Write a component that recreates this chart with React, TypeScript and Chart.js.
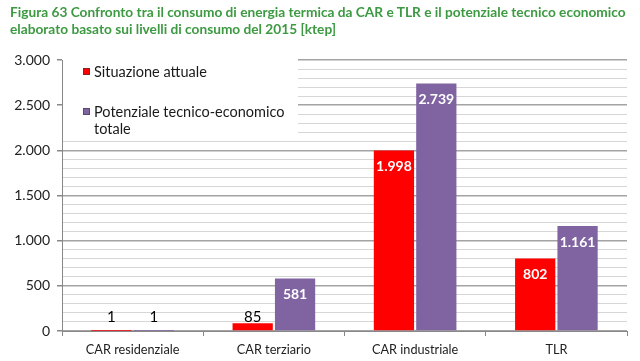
import React, { useEffect, useRef } from "react";
import { Chart, registerables } from "chart.js";

Chart.register(...registerables);

const titleLines = [
  "Figura 63 Confronto tra il consumo di energia termica da CAR e TLR e il potenziale tecnico economico",
  "elaborato basato sui livelli di consumo del 2015 [ktep]",
];
const categories = ["CAR residenziale", "CAR terziario", "CAR industriale", "TLR"];
const seriesNames = ["Situazione attuale", "Potenziale tecnico-economico totale"];
const legendLines = [["Situazione attuale"], ["Potenziale tecnico-economico", "totale"]];
const situazioneAttuale = [1, 85, 1998, 802];
const potenziale = [1, 581, 2739, 1161];
const colors = ["#ff0000", "#8064a2"];

const FONT = "Lato, 'Open Sans', sans-serif";

function fmt(v: number): string {
  return String(Math.round(v)).replace(/\B(?=(\d{3})+(?!\d))/g, ".");
}

const labelPlugin = {
  id: "valueLabels",
  afterDatasetsDraw(chart: any) {
    const ctx = chart.ctx;
    const base = chart.scales.y.getPixelForValue(0);
    ctx.save();
    ctx.textAlign = "center";
    ctx.textBaseline = "middle";
    chart.data.datasets.forEach((ds: any, di: number) => {
      const meta = chart.getDatasetMeta(di);
      meta.data.forEach((bar: any, i: number) => {
        const v = ds.data[i];
        const inside = bar.y + 16;
        const clamp = base - 14;
        if (inside <= clamp) {
          ctx.fillStyle = "#ffffff";
          ctx.font = `bold 14px ${FONT}`;
          ctx.fillText(fmt(v), bar.x, inside);
        } else {
          ctx.fillStyle = "#000000";
          ctx.font = `15px ${FONT}`;
          ctx.fillText(fmt(v), bar.x, clamp);
        }
      });
    });
    ctx.restore();
  },
};

const legendPlugin = {
  id: "boxLegend",
  afterDraw(chart: any) {
    const ctx = chart.ctx;
    const a = chart.chartArea;
    ctx.save();
    ctx.fillStyle = "#ffffff";
    ctx.fillRect(a.left + 1, 54, 298 - a.left - 1, 141 - 54);
    const rows = [
      { y: 72, lines: legendLines[0], color: colors[0] },
      { y: 112, lines: legendLines[1], color: colors[1] },
    ];
    ctx.textAlign = "left";
    ctx.textBaseline = "middle";
    ctx.font = `14.5px ${FONT}`;
    rows.forEach((r) => {
      ctx.fillStyle = r.color;
      ctx.fillRect(83, r.y - 4, 7, 7);
      ctx.strokeStyle = "rgba(60,60,60,0.6)";
      ctx.lineWidth = 1;
      ctx.strokeRect(83.5, r.y - 3.5, 6, 6);
      ctx.fillStyle = "#1a1a1a";
      r.lines.forEach((t, k) => ctx.fillText(t, 94, r.y + k * 17));
    });
    ctx.restore();
  },
};

export default function App() {
  const ref = useRef<HTMLCanvasElement>(null);
  useEffect(() => {
    if (!ref.current) return;
    const chart = new Chart(ref.current, {
      type: "bar",
      data: {
        labels: categories,
        datasets: [
          { label: seriesNames[0], data: situazioneAttuale, backgroundColor: colors[0] },
          { label: seriesNames[1], data: potenziale, backgroundColor: colors[1] },
        ],
      },
      options: {
        responsive: false,
        animation: false,
        events: [],
        layout: { padding: { top: 60, right: 13, left: 0, bottom: 0 } },
        datasets: { bar: { categoryPercentage: 0.6, barPercentage: 0.95 } } as any,
        plugins: { legend: { display: false }, tooltip: { enabled: false }, title: { display: false } },
        scales: {
          x: {
            afterFit: (s: any) => { s.height = 30; },
            grid: { display: true, drawOnChartArea: false, drawTicks: true, tickLength: 5, offset: true, color: "#888" },
            border: { color: "#888" },
            ticks: { color: "#222", font: { family: FONT, size: 12.7 }, padding: 6 },
          },
          y: {
            min: 0,
            max: 3000,
            afterFit: (s: any) => { s.width = 62; },
            border: { color: "#888" },
            grid: {
              color: (c: any) => (c.tick && c.tick.value % 500 === 0 ? "#a3a3a3" : "#d6d6d6"),
              lineWidth: (c: any) => (c.tick && c.tick.value % 500 === 0 ? 1.5 : 1),
              tickColor: (c: any) => (c.tick && c.tick.value % 500 === 0 ? "#888" : "rgba(0,0,0,0)"),
              tickLength: 5,
            },
            ticks: {
              stepSize: 100,
              autoSkip: false,
              padding: 7,
              color: "#222",
              font: { family: FONT, size: 14 },
              callback: (v: any) => (Number(v) % 500 === 0 ? fmt(Number(v)) : ""),
            },
          },
        },
      },
      plugins: [labelPlugin, legendPlugin],
    });
    return () => chart.destroy();
  }, []);
  return (
    <div style={{ position: "absolute", left: 0, top: 0, width: 640, height: 361, background: "#fff" }}>
      <canvas ref={ref} width={640} height={361} style={{ position: "absolute", left: 0, top: 0 }} />
      <div
        style={{
          position: "absolute",
          left: 10,
          top: 3,
          fontFamily: FONT,
          fontWeight: 700,
          fontSize: 13.7,
          lineHeight: "17px",
          color: "#3d9a42",
          whiteSpace: "nowrap",
        }}
      >
        {titleLines.map((t, i) => (
          <div key={i}>{t}</div>
        ))}
      </div>
    </div>
  );
}
